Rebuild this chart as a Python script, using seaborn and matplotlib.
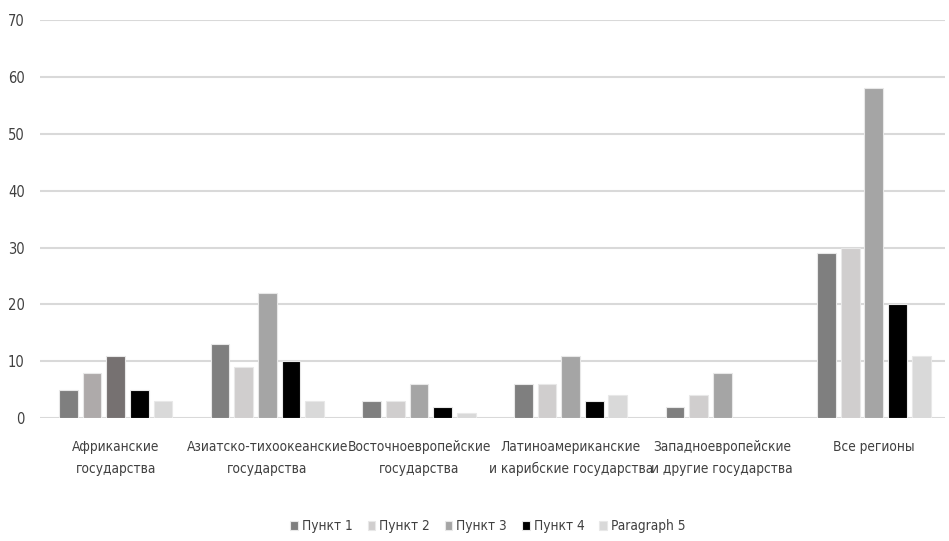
import pandas as pd
import seaborn as sns
import matplotlib.pyplot as plt

# Data
regions = ['Африканские\nгосударства', 'Азиатско-тихоокеанские\nгосударства',
           'Восточноевропейские\nгосударства', 'Латиноамериканские\nи карибские государства',
           'Западноевропейские\nи другие государства', 'Все регионы']
series = ['Пункт 1', 'Пункт 2', 'Пункт 3', 'Пункт 4', 'Paragraph 5']
p1 = [5, 13, 3, 6, 2, 29]
p2 = [8, 9, 3, 6, 4, 30]
p3 = [11, 22, 6, 11, 8, 58]
p4 = [5, 10, 2, 3, 0, 20]
p5 = [3, 3, 1, 4, 0, 11]
colors = ['#7f7f7f', '#d0cece', '#a5a5a5', '#000000', '#d9d9d9']

rows = []
for name, vals in zip(series, [p1, p2, p3, p4, p5]):
    for reg, v in zip(regions, vals):
        rows.append({'region': reg, 'series': name, 'value': v})
df = pd.DataFrame(rows)

sns.set_style('white')
plt.rcParams['font.family'] = ['DejaVu Sans']
plt.rcParams['font.stretch'] = 'condensed'

fig, ax = plt.subplots(figsize=(9.49, 5.41), dpi=100)
fig.subplots_adjust(left=0.042, right=0.996, top=0.963, bottom=0.227)

sns.barplot(data=df, x='region', y='value', hue='series', palette=colors,
            width=0.78, gap=0.2, edgecolor='#e8e8e8', linewidth=0.8, ax=ax, zorder=3)

# the African group has its own shades in the original
ax.containers[1][0].set_facecolor('#aeaaaa')
ax.containers[2][0].set_facecolor('#767171')

ax.set_ylim(0, 70)
ax.set_xlim(-0.5, 5.47)
ax.set_yticks(range(0, 71, 10))
ax.yaxis.grid(True, color='#d9d9d9', linewidth=1.5, zorder=0)
ax.set_axisbelow(True)
for s in ax.spines.values():
    s.set_visible(False)
ax.tick_params(axis='both', length=0, colors='#404040')
ax.tick_params(axis='x', pad=16, labelsize=9.8)
ax.tick_params(axis='y', pad=11, labelsize=10.5)
for lbl in ax.get_xticklabels():
    lbl.set_linespacing(1.7)
ax.set_xlabel('')
ax.set_ylabel('')

leg = ax.legend(loc='lower center', bbox_to_anchor=(0.495, -0.32), ncol=5, frameon=False,
                fontsize=9.8, handlelength=0.55, handleheight=0.55, handletextpad=0.3,
                columnspacing=1.1)
for t in leg.get_texts():
    t.set_color('#404040')

fig.savefig('out.png', dpi=100)
